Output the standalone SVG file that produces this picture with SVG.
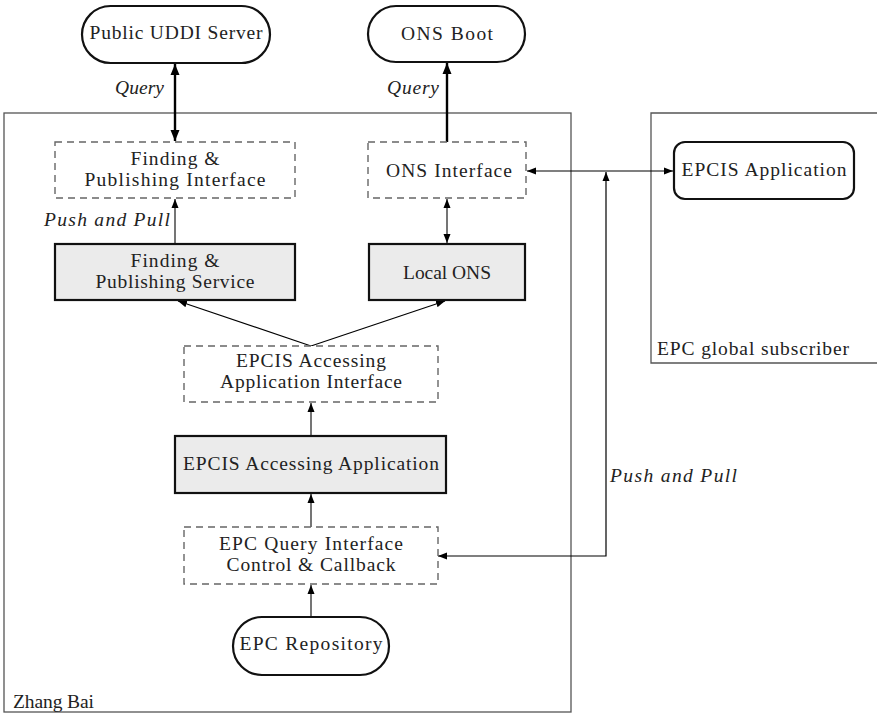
<svg xmlns="http://www.w3.org/2000/svg" width="877" height="716" viewBox="0 0 877 716">
<defs>
<style>
text{font-family:"Liberation Serif","Times New Roman",serif;font-size:19.5px;fill:#222}
.c{text-anchor:middle}
.it{font-style:italic}
.frame{fill:none;stroke:#555;stroke-width:1.3}
.dash{fill:#fff;stroke:#666;stroke-width:1.4;stroke-dasharray:7,5}
.solid{fill:#ebebeb;stroke:#111;stroke-width:2.2}
.term{fill:#fff;stroke:#111;stroke-width:2.2}
.thick{fill:none;stroke:#000;stroke-width:2.4}
.gray{fill:none;stroke:#666;stroke-width:1.8}
.thin{fill:none;stroke:#000;stroke-width:1.2}
</style>
<marker id="ah" markerUnits="userSpaceOnUse" markerWidth="10" markerHeight="8" refX="9" refY="4" orient="auto-start-reverse" viewBox="0 0 10 8">
<path d="M0,0.5 L9,4 L0,7.5 z" fill="#000"/>
</marker>
<marker id="ahb" markerUnits="userSpaceOnUse" markerWidth="12" markerHeight="10" refX="11" refY="5" orient="auto-start-reverse" viewBox="0 0 12 10">
<path d="M0,0.5 L11,5 L0,9.5 z" fill="#000"/>
</marker>
</defs>
<rect width="877" height="716" fill="#fff"/>

<g id="zhang-bai">
<rect class="frame" x="4" y="113" width="567" height="599"/>
<text x="13" y="708" textLength="81">Zhang Bai</text>
</g>
<g id="epc-global-subscriber">
<path class="frame" d="M878,113 H651 V363 H878"/>
<text x="657" y="355" textLength="192">EPC global subscriber</text>
</g>

<g id="connectors">
<line class="thick" x1="175" y1="64" x2="175" y2="141" marker-start="url(#ahb)" marker-end="url(#ahb)"/>
<line class="thick" x1="447" y1="142" x2="447" y2="63" marker-end="url(#ahb)"/>
<line class="gray" x1="175" y1="244" x2="175" y2="199" marker-end="url(#ah)"/>
<line class="gray" x1="447" y1="199" x2="447" y2="243" marker-start="url(#ah)" marker-end="url(#ah)"/>
<line class="thin" x1="311" y1="346" x2="178" y2="301" marker-end="url(#ah)"/>
<line class="thin" x1="311" y1="346" x2="445" y2="301" marker-end="url(#ah)"/>
<line class="gray" x1="311" y1="436" x2="311" y2="403" marker-end="url(#ah)"/>
<line class="gray" x1="311" y1="527" x2="311" y2="494" marker-end="url(#ah)"/>
<line class="gray" x1="311" y1="617" x2="311" y2="585" marker-end="url(#ah)"/>
<line class="thin" x1="527" y1="171" x2="673" y2="171" marker-start="url(#ah)" marker-end="url(#ah)"/>
<polyline class="thin" points="438,556 606,556 606,172" marker-start="url(#ah)" marker-end="url(#ah)"/>
<text class="it" x="115" y="94" textLength="49">Query</text>
<text class="it" x="387" y="94" textLength="52">Query</text>
<text class="it" x="44" y="226" textLength="126">Push and Pull</text>
<text class="it" x="610" y="482" textLength="127">Push and Pull</text>
</g>

<g id="public-uddi-server">
<rect class="term" x="82" y="6" width="188" height="57" rx="28.5"/>
<text class="c" x="176" y="39" textLength="173">Public UDDI Server</text>
</g>
<g id="ons-boot">
<rect class="term" x="368" y="6" width="157" height="56" rx="28"/>
<text class="c" x="447" y="40" textLength="92">ONS Boot</text>
</g>
<g id="finding-publishing-interface">
<rect class="dash" x="55" y="142" width="240" height="56"/>
<text class="c" x="175" y="165" textLength="89">Finding &amp;</text>
<text class="c" x="175" y="186" textLength="181">Publishing Interface</text>
</g>
<g id="ons-interface">
<rect class="dash" x="368" y="142" width="158" height="56"/>
<text class="c" x="449" y="177" textLength="126">ONS Interface</text>
</g>
<g id="finding-publishing-service">
<rect class="solid" x="55" y="244" width="240" height="56"/>
<text class="c" x="175" y="267" textLength="89">Finding &amp;</text>
<text class="c" x="175" y="288" textLength="159">Publishing Service</text>
</g>
<g id="local-ons">
<rect class="solid" x="369" y="244" width="156" height="56"/>
<text class="c" x="447" y="279" textLength="88">Local ONS</text>
</g>
<g id="epcis-accessing-application-interface">
<rect class="dash" x="184" y="346" width="254" height="56"/>
<text class="c" x="311" y="367" textLength="150">EPCIS Accessing</text>
<text class="c" x="311" y="388" textLength="182">Application Interface</text>
</g>
<g id="epcis-accessing-application">
<rect class="solid" x="175" y="436" width="271" height="57"/>
<text class="c" x="311" y="470" textLength="256">EPCIS Accessing Application</text>
</g>
<g id="epc-query-interface">
<rect class="dash" x="184" y="527" width="254" height="57"/>
<text class="c" x="311" y="550" textLength="184">EPC Query Interface</text>
<text class="c" x="311" y="571" textLength="169">Control &amp; Callback</text>
</g>
<g id="epc-repository">
<rect class="term" x="233" y="617" width="156" height="58" rx="29"/>
<text class="c" x="311" y="650" textLength="143">EPC Repository</text>
</g>
<g id="epcis-application">
<rect class="term" x="674" y="142" width="180" height="57" rx="11"/>
<text class="c" x="764" y="176" textLength="165">EPCIS Application</text>
</g>
</svg>
